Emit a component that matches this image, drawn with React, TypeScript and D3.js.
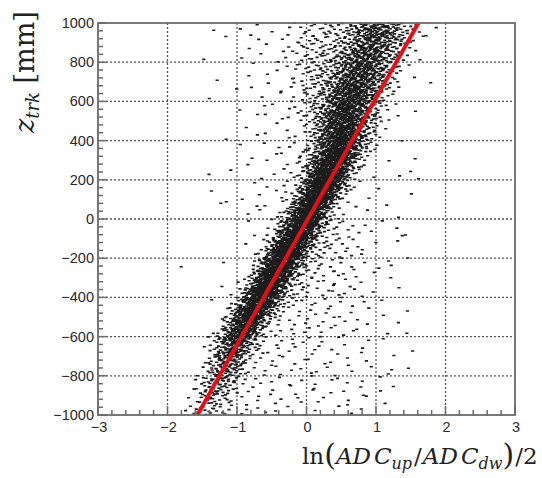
import React, { useMemo } from "react";
import * as d3 from "d3";

// ---- axis definitions ----
const xMajor = [-3, -2, -1, 0, 1, 2, 3];
const yMajor = [-1000, -800, -600, -400, -200, 0, 200, 400, 600, 800, 1000];
const xGridVals = [-2, -1, 0, 1, 2];
const yGridVals = [-800, -600, -400, -200, 0, 200, 400, 600, 800];
const xTickLabels = ["−3", "−2", "−1", "0", "1", "2", "3"];
const yTickLabels = ["−1000", "−800", "−600", "−400", "−200", "0", "200", "400", "600", "800", "1000"];

// ---- 2D histogram (scatter) : bins of 0.1 in x starting at -2.0, 50 mm in z starting at -1000 ----
const binX0 = -2.0;
const binDX = 0.1;
const binZ0 = -1000;
const binDZ = 50;
// row 0 = z in [-1000,-950), last row = z in [950,1000); 40 columns: x from -2.0 to 2.0
const counts: number[][] = [
  [0,0,1,2,3,4,4,3,2,1, 1,1,1,0,1,1,0,1,0,1, 0,1,0,0,1,0,1,1,0,0, 0,0,0,0,0,0,0,0,0,0],
  [0,0,0,1,3,4,5,4,3,1, 1,1,1,1,0,1,1,0,1,1, 0,1,1,0,0,1,1,0,1,0, 0,1,0,0,0,0,0,0,0,0],
  [0,0,0,1,2,5,7,7,5,2, 1,1,1,0,1,1,0,1,1,0, 1,1,0,1,0,1,0,1,1,0, 1,0,1,0,0,0,0,0,0,0],
  [0,0,0,0,2,4,7,9,8,5, 2,1,1,1,1,0,1,1,0,1, 1,1,0,1,1,1,0,0,1,0, 1,0,0,0,0,0,0,0,0,0],
  [0,0,0,0,1,2,6,10,11,8, 4,2,1,1,1,1,1,1,0,1, 1,1,1,0,1,0,1,0,0,1, 0,1,1,0,1,0,0,0,0,0],
  [0,0,0,0,0,2,5,10,14,13, 8,3,1,1,1,1,1,0,1,1, 1,0,1,1,0,1,1,0,1,0, 0,0,0,0,0,0,0,0,0,0],
  [0,0,0,0,0,1,3,8,14,17, 13,7,3,2,1,1,1,1,1,0, 1,1,0,1,1,0,0,1,1,0, 0,0,1,0,0,1,0,0,0,0],
  [0,0,0,0,0,1,2,6,13,19, 19,13,6,2,1,1,1,1,1,1, 1,1,1,0,1,1,0,0,1,0, 0,1,0,0,0,0,0,0,0,0],
  [0,0,0,0,0,0,1,3,9,18, 24,21,13,5,2,1,1,1,1,1, 1,1,1,1,0,1,1,1,0,0, 0,1,0,0,1,0,0,0,0,0],
  [0,0,0,0,0,0,0,1,5,13, 23,28,23,13,5,2,1,1,1,1, 1,1,1,1,1,1,0,1,1,0, 0,0,0,1,0,0,0,0,0,0],
  [0,0,0,0,0,0,0,0,2,7, 17,28,32,24,12,5,2,1,1,1, 1,1,1,1,1,0,1,0,1,0, 0,1,0,0,1,0,0,0,0,0],
  [0,0,0,0,0,0,1,0,0,2, 8,20,32,34,25,13,5,2,2,1, 1,1,1,1,1,1,1,0,1,0, 1,0,0,0,0,0,0,0,0,0],
  [0,0,0,0,0,0,0,0,0,1, 3,11,23,34,34,23,11,4,2,2, 1,1,1,2,1,1,1,0,1,1, 0,0,0,1,0,0,0,0,0,0],
  [0,0,0,0,0,0,0,1,0,0, 1,4,13,27,36,34,21,9,4,2, 2,1,1,1,1,1,1,1,0,0, 0,0,1,0,0,0,0,0,0,0],
  [0,0,0,0,0,0,0,0,0,0, 0,1,6,16,29,37,31,18,8,3, 2,2,1,1,2,1,1,1,0,1, 1,0,0,0,0,0,0,0,0,0],
  [0,1,0,0,0,0,0,0,1,0, 0,0,2,8,20,33,38,28,15,6, 3,2,1,2,1,1,1,0,1,0, 0,1,1,0,0,0,0,0,0,0],
  [0,0,0,0,0,0,0,0,0,0, 0,0,1,3,10,23,35,37,26,12, 5,3,2,1,2,1,1,1,1,0, 0,0,0,0,1,0,0,0,0,0],
  [0,0,0,0,0,0,0,0,0,0, 0,1,0,1,4,12,26,37,35,23, 11,5,3,2,1,2,1,1,0,1, 0,0,0,1,0,0,0,0,0,0],
  [0,0,0,0,0,0,0,0,0,0, 0,0,1,0,1,5,15,28,38,33, 20,9,4,2,2,1,1,1,0,1, 0,0,0,1,1,0,0,0,0,0],
  [0,0,0,0,0,0,0,0,0,0, 0,1,0,0,1,2,7,17,31,38, 31,17,8,4,2,1,1,0,1,0, 1,0,0,1,0,0,0,0,0,0],
  [0,0,0,0,0,0,0,0,0,0, 0,1,0,1,0,1,3,9,21,35, 37,27,13,4,1,1,0,0,1,0, 0,0,0,1,0,0,0,0,0,0],
  [0,0,0,0,0,0,0,1,1,0, 0,0,1,0,1,0,1,4,11,24, 36,36,24,11,3,1,0,1,0,0, 0,1,0,0,0,0,0,0,0,0],
  [0,0,0,0,0,0,1,0,0,0, 1,0,0,1,0,1,1,2,4,13, 27,37,35,21,9,3,1,0,1,0, 0,0,0,0,0,1,0,0,0,0],
  [0,0,0,0,0,0,0,0,0,0, 0,0,1,0,1,0,1,1,2,8, 18,30,36,30,18,8,2,1,0,0, 1,0,0,0,0,0,0,0,0,0],
  [0,0,0,0,0,1,0,0,0,1, 0,0,0,1,0,1,0,1,2,5, 13,24,33,33,24,13,5,1,0,1, 0,0,0,1,1,0,1,0,0,0],
  [0,0,0,0,0,0,0,0,0,0, 0,1,0,0,1,0,1,1,1,3, 8,17,27,32,28,19,10,4,1,0, 0,1,0,0,0,0,0,0,0,0],
  [0,0,0,0,0,0,0,0,0,0, 0,0,1,0,0,1,1,0,1,2, 5,12,21,28,30,24,15,8,3,1, 0,0,0,0,0,1,0,0,0,0],
  [0,0,0,0,0,0,0,0,0,0, 1,0,0,1,0,0,1,1,1,1, 3,8,15,23,28,27,20,12,6,2, 1,0,0,1,0,0,0,0,0,0],
  [0,0,0,0,0,0,0,0,1,0, 0,0,1,0,1,0,0,1,1,1, 3,7,13,20,25,26,21,14,8,4, 1,0,0,0,0,0,0,0,0,0],
  [0,0,0,0,0,0,0,0,0,0, 0,1,0,0,0,1,0,1,0,1, 3,6,11,17,22,24,21,16,9,5, 2,1,0,0,0,0,0,0,0,0],
  [0,0,0,0,0,0,0,0,0,0, 0,0,1,0,1,0,1,1,1,2, 3,6,10,15,20,22,21,16,11,6, 3,1,0,1,0,1,0,0,0,0],
  [0,0,0,0,0,0,0,0,0,0, 1,0,0,1,0,1,0,1,1,2, 3,5,8,13,18,21,20,17,12,7, 4,2,1,0,0,0,0,0,0,0],
  [0,0,0,0,0,0,1,0,0,0, 0,0,0,1,0,0,1,1,1,2, 3,4,7,11,15,19,20,18,14,9, 5,2,1,0,0,0,0,0,0,0],
  [0,0,0,0,0,0,0,0,0,1, 0,0,1,0,1,0,1,1,1,2, 3,4,6,9,13,17,19,19,16,12, 7,4,2,1,0,0,0,1,0,0],
  [0,0,0,0,0,0,0,1,0,0, 0,1,0,0,1,0,0,1,1,2, 3,4,5,7,10,14,17,18,17,13, 9,5,3,1,0,1,0,0,0,0],
  [0,0,0,0,0,0,0,0,0,0, 0,0,1,0,0,1,0,1,2,2, 3,4,4,5,7,11,15,17,17,15, 11,7,4,2,1,0,0,0,0,0],
  [0,0,0,0,0,1,0,0,0,0, 1,0,0,1,0,1,0,1,1,2, 3,3,4,4,6,8,12,15,16,15, 13,9,6,3,1,0,1,0,0,0],
  [0,0,0,0,0,0,0,0,0,0, 0,1,0,0,1,0,1,1,2,2, 3,3,3,4,5,6,9,12,15,15, 14,11,7,5,2,1,0,0,0,0],
  [0,0,0,0,0,0,0,0,1,0, 0,1,0,1,0,0,1,1,1,2, 2,3,3,3,4,5,7,10,13,14, 14,12,9,6,3,1,1,1,0,0],
  [0,0,0,0,0,0,1,0,0,0, 1,0,1,0,0,1,0,1,1,2, 2,2,3,3,3,4,6,9,12,13, 13,12,9,6,4,2,1,0,1,0],
];

// ---- linear fit (red line) endpoints ----
const fitX = [-1.57, 1.61];
const fitZ = [-1000, 1000];

// deterministic low-discrepancy placement of entries inside a bin (like ROOT's SCAT draw)
function halton(i: number, b: number): number {
  let f = 1, r = 0;
  while (i > 0) {
    f /= b;
    r += f * (i % b);
    i = Math.floor(i / b);
  }
  return r;
}

const L = 98, R = 515, T = 23, B = 415;

export default function App() {
  const x = d3.scaleLinear().domain([-3, 3]).range([L, R]);
  const y = d3.scaleLinear().domain([-1000, 1000]).range([B, T]);

  const pointPath = useMemo(() => {
    let p = "";
    let idx = 1;
    counts.forEach((row, j) => {
      const z0 = binZ0 + j * binDZ;
      row.forEach((n, k) => {
        const x0 = binX0 + k * binDX;
        for (let m = 0; m < n; m++) {
          const u = halton(idx * 409, 2);
          const v = halton(idx * 409, 3);
          idx++;
          const px = x(x0 + u * binDX);
          const py = y(z0 + v * binDZ);
          p += `M${(px - 1.6).toFixed(1)},${(py - 0.8).toFixed(1)}h3.2v1.6h-3.2z`;
        }
      });
    });
    return p;
  }, []);

  const xMinor = d3.range(-3, 3.0001, 0.2).filter((v) => Math.abs(v - Math.round(v)) > 1e-6);
  const yMinor = d3.range(-1000, 1000.1, 40).filter((v) => Math.abs(v % 200) > 1e-6);

  const frameColor = "#6a6a6a";
  const gridColor = "#555";
  const labelColor = "#2a2a2a";

  return (
    <svg
      width={542}
      height={478}
      style={{ position: "absolute", left: 0, top: 0, background: "#fff" }}
    >
      {/* grid */}
      <g stroke={gridColor} strokeWidth={1.3} strokeDasharray="2,2">
        {xGridVals.map((v) => (
          <line key={"gx" + v} x1={x(v)} x2={x(v)} y1={T} y2={B} />
        ))}
        {yGridVals.map((v) => (
          <line key={"gy" + v} x1={L} x2={R} y1={y(v)} y2={y(v)} />
        ))}
      </g>

      {/* scatter entries */}
      <path d={pointPath} fill="#1c1c1c" />

      {/* fit line */}
      <line
        x1={x(fitX[0])}
        y1={y(fitZ[0])}
        x2={x(fitX[1])}
        y2={y(fitZ[1])}
        stroke="#e3101a"
        strokeWidth={4}
      />

      {/* frame */}
      <rect x={L} y={T} width={R - L} height={B - T} fill="none" stroke={frameColor} strokeWidth={1.8} />

      {/* ticks */}
      <g stroke={frameColor} strokeWidth={1.5}>
        {xMajor.map((v) => (
          <line key={"xt" + v} x1={x(v)} x2={x(v)} y1={B} y2={B - 9} />
        ))}
        {xMinor.map((v) => (
          <line key={"xm" + v} x1={x(v)} x2={x(v)} y1={B} y2={B - 5} />
        ))}
        {yMajor.map((v) => (
          <line key={"yt" + v} x1={L} x2={L + 9} y1={y(v)} y2={y(v)} />
        ))}
        {yMinor.map((v) => (
          <line key={"ym" + v} x1={L} x2={L + 5} y1={y(v)} y2={y(v)} />
        ))}
      </g>

      {/* tick labels */}
      <g fontFamily="'Liberation Sans', Arial, sans-serif" fontSize={14.5} fill={labelColor}>
        {yMajor.map((v, i) => (
          <text key={"yl" + v} x={94} y={y(v)} textAnchor="end" dominantBaseline="central">
            {yTickLabels[i]}
          </text>
        ))}
        {xMajor.map((v, i) => (
          <text key={"xl" + v} x={x(v) + 1} y={432} textAnchor="middle">
            {xTickLabels[i]}
          </text>
        ))}
      </g>

      {/* y title */}
      <text
        transform="translate(34,133) rotate(-90)"
        fontFamily="'DejaVu Serif', 'Liberation Serif', serif"
        fontSize={27}
        fill="#222"
      >
        <tspan fontStyle="italic">z</tspan>
        <tspan fontStyle="italic" fontSize={18} dy={5}>trk</tspan>
        <tspan dy={-5}> [mm]</tspan>
      </text>

      {/* x title */}
      <text
        x={302}
        y={464}
        fontFamily="'DejaVu Serif', 'Liberation Serif', serif"
        fontSize={23}
        fill="#222"
      >
        <tspan>ln</tspan>
        <tspan fontSize={30} dy={1}>(</tspan>
        <tspan fontStyle="italic" dy={-1}>AD</tspan>
        <tspan fontStyle="italic" dx={3}>C</tspan>
        <tspan fontStyle="italic" fontSize={16} dy={5}>up</tspan>
        <tspan dy={-5} dx={2}>/</tspan>
        <tspan fontStyle="italic" dx={1}>AD</tspan>
        <tspan fontStyle="italic" dx={3}>C</tspan>
        <tspan fontStyle="italic" fontSize={16} dy={5}>dw</tspan>
        <tspan dy={-4} fontSize={30}>)</tspan>
        <tspan dy={-1} dx={1}>/2</tspan>
      </text>
    </svg>
  );
}
